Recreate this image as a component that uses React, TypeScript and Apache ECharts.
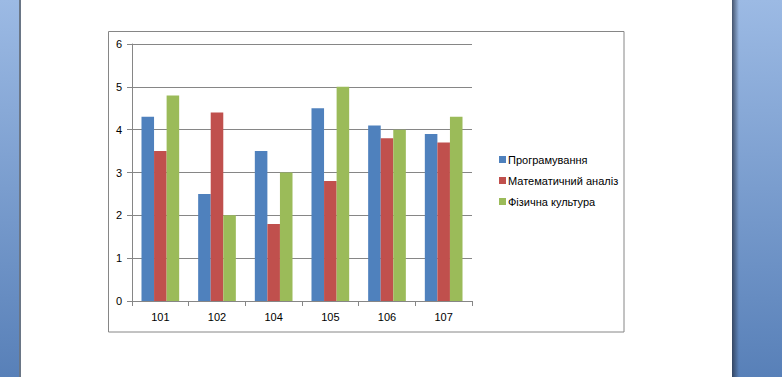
import React, { useEffect, useRef } from "react";
import * as echarts from "echarts";

const categories = ["101", "102", "104", "105", "106", "107"];
const programming = [4.3, 2.5, 3.5, 4.5, 4.1, 3.9];
const mathAnalysis = [3.5, 4.4, 1.8, 2.8, 3.8, 3.7];
const physicalEd = [4.8, 2.0, 3.0, 5.0, 4.0, 4.3];
const seriesNames = ["Програмування", "Математичний аналіз", "Фізична культура"];

const FONT = "'Liberation Sans', Arial, sans-serif";
const GRAY = "#868686";

export default function App() {
  const ref = useRef<HTMLDivElement>(null);
  useEffect(() => {
    if (!ref.current) return;
    const chart = echarts.init(ref.current, undefined, { renderer: "svg" });
    const blueGrad = new echarts.graphic.LinearGradient(0, 0, 0, 1, [
      { offset: 0, color: "#9CBAE4" },
      { offset: 1, color: "#5880B8" },
    ]);
    const blueGrad2 = new echarts.graphic.LinearGradient(0, 0, 0, 1, [
      { offset: 0, color: "#9CBAE4" },
      { offset: 1, color: "#5880B8" },
    ]);
    const shadowGrad = new echarts.graphic.LinearGradient(0, 0, 1, 0, [
      { offset: 0, color: "rgba(40,50,70,0.75)" },
      { offset: 1, color: "rgba(40,50,70,0)" },
    ]);
    chart.setOption({
      animation: false,
      backgroundColor: "#ffffff",
      textStyle: { fontFamily: FONT },
      graphic: [
        { type: "rect", shape: { x: 0, y: 0, width: 20, height: 377 }, style: { fill: blueGrad }, silent: true },
        { type: "rect", shape: { x: 19, y: 0, width: 2, height: 377 }, style: { fill: "#6A7686" }, silent: true },
        { type: "rect", shape: { x: 732, y: 0, width: 50, height: 377 }, style: { fill: blueGrad2 }, silent: true },
        { type: "rect", shape: { x: 732, y: 0, width: 7, height: 377 }, style: { fill: shadowGrad }, silent: true },
        {
          type: "rect",
          shape: { x: 108.5, y: 31.5, width: 515.5, height: 300.5 },
          style: { fill: "none", stroke: GRAY, lineWidth: 1 },
          silent: true,
        },
      ],
      color: ["#4F81BD", "#C0504D", "#9BBB59"],
      grid: { left: 132, right: 310, top: 44, bottom: 76, containLabel: false },
      legend: {
        orient: "vertical",
        left: 494,
        top: 149,
        itemWidth: 7,
        itemHeight: 7,
        itemGap: 10,
        icon: "rect",
        data: seriesNames,
        textStyle: { fontSize: 11, color: "#000", fontFamily: FONT, padding: [0, 0, 0, -3] },
      },
      xAxis: {
        type: "category",
        data: categories,
        axisLine: { lineStyle: { color: GRAY, width: 1 } },
        axisTick: { show: true, length: 5, alignWithLabel: false, lineStyle: { color: GRAY } },
        axisLabel: { color: "#000", fontSize: 11, margin: 10, fontFamily: FONT },
      },
      yAxis: {
        type: "value",
        min: 0,
        max: 6,
        interval: 1,
        axisLine: { show: true, lineStyle: { color: GRAY, width: 1 } },
        axisTick: { show: true, length: 5, lineStyle: { color: GRAY } },
        axisLabel: { color: "#000", fontSize: 11, margin: 10, fontFamily: FONT },
        splitLine: { show: true, lineStyle: { color: GRAY, width: 1 } },
      },
      series: [
        { name: seriesNames[0], type: "bar", data: programming, barGap: "0%", barCategoryGap: "33.5%" },
        { name: seriesNames[1], type: "bar", data: mathAnalysis, barGap: "0%", barCategoryGap: "33.5%" },
        { name: seriesNames[2], type: "bar", data: physicalEd, barGap: "0%", barCategoryGap: "33.5%" },
      ],
    });
    return () => chart.dispose();
  }, []);
  return (
    <div
      ref={ref}
      style={{ position: "fixed", left: 0, top: 0, width: 782, height: 377 }}
    />
  );
}
